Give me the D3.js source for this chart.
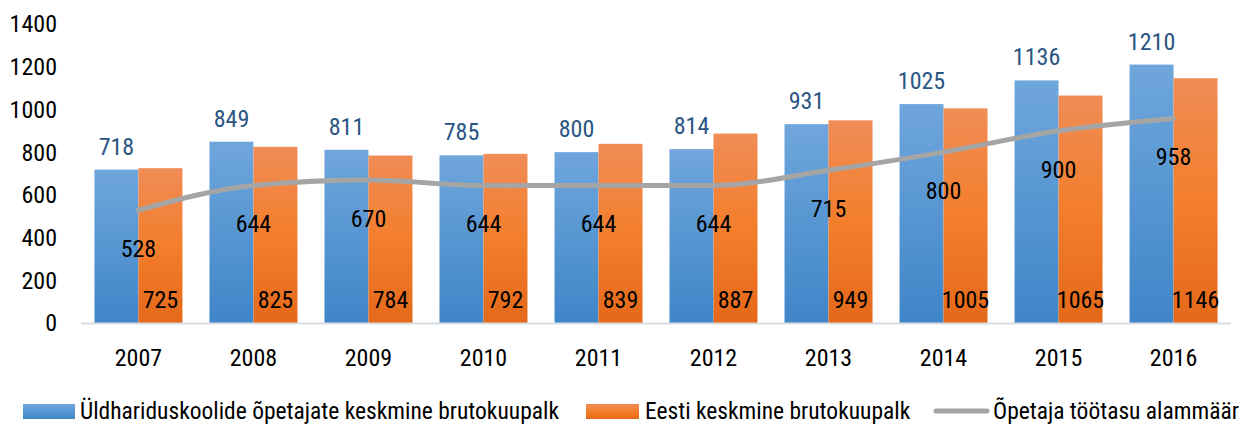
<!DOCTYPE html>
<html>
<head>
<meta charset="utf-8">
<script src="https://cdn.jsdelivr.net/npm/d3@7"></script>
<style>
  body { margin: 0; background: #fff; }
  svg text { font-family: "Roboto Condensed", "Liberation Sans Narrow", "DejaVu Sans Condensed", sans-serif; }
</style>
</head>
<body>
<div id="chart"></div>
<script>
const years = ["2007", "2008", "2009", "2010", "2011", "2012", "2013", "2014", "2015", "2016"];
const teacherPay = [718, 849, 811, 785, 800, 814, 931, 1025, 1136, 1210];
const estoniaPay = [725, 825, 784, 792, 839, 887, 949, 1005, 1065, 1146];
const minPay = [528, 644, 670, 644, 644, 644, 715, 800, 900, 958];
const yTicks = [0, 200, 400, 600, 800, 1000, 1200, 1400];
const seriesNames = [
    "Üldhariduskoolide õpetajate keskmine brutokuupalk",
    "Eesti keskmine brutokuupalk",
    "Õpetaja töötasu alammäär"
];

const width = 1248, height = 425;
const margin = {top: 24, right: 16, bottom: 102, left: 81};

const svg = d3.select("#chart").append("svg")
    .attr("width", width)
    .attr("height", height);

const defs = svg.append("defs");
const blueGrad = defs.append("linearGradient").attr("id", "blueGrad")
    .attr("x1", 0).attr("y1", 0).attr("x2", 0).attr("y2", 1);
blueGrad.append("stop").attr("offset", "0%").attr("stop-color", "#6fa6dc");
blueGrad.append("stop").attr("offset", "100%").attr("stop-color", "#3f86c8");
const orangeGrad = defs.append("linearGradient").attr("id", "orangeGrad")
    .attr("x1", 0).attr("y1", 0).attr("x2", 0).attr("y2", 1);
orangeGrad.append("stop").attr("offset", "0%").attr("stop-color", "#f08c56");
orangeGrad.append("stop").attr("offset", "50%").attr("stop-color", "#f37e2c");
orangeGrad.append("stop").attr("offset", "100%").attr("stop-color", "#e4691a");

const x = d3.scaleBand()
    .domain(years)
    .range([margin.left, margin.left + 1150])
    .paddingInner(0.235)
    .paddingOuter(0.117);

const y = d3.scaleLinear()
    .domain([0, 1400])
    .range([323, 24]);

// y axis labels
svg.append("g")
    .attr("font-size", 24)
    .attr("text-anchor", "end")
    .selectAll("text")
    .data(yTicks)
    .join("text")
    .attr("x", 57)
    .attr("y", d => y(d))
    .attr("dy", "0.35em")
    .attr("fill", "#000")
    .text(d => d);

const bw = x.bandwidth() / 2;

// blue bars
svg.append("g")
    .selectAll("rect")
    .data(years)
    .join("rect")
    .attr("x", d => x(d))
    .attr("y", (d, i) => y(teacherPay[i]))
    .attr("width", bw)
    .attr("height", (d, i) => y(0) - y(teacherPay[i]))
    .attr("fill", "url(#blueGrad)");

// orange bars
svg.append("g")
    .selectAll("rect")
    .data(years)
    .join("rect")
    .attr("x", d => x(d) + bw)
    .attr("y", (d, i) => y(estoniaPay[i]))
    .attr("width", bw)
    .attr("height", (d, i) => y(0) - y(estoniaPay[i]))
    .attr("fill", "url(#orangeGrad)");

// baseline
svg.append("line")
    .attr("x1", margin.left).attr("x2", margin.left + 1150)
    .attr("y1", y(0) + 0.5).attr("y2", y(0) + 0.5)
    .attr("stroke", "#d9dde3")
    .attr("stroke-width", 2);

// line
const cx = d => x(d) + x.bandwidth() / 2;
const line = d3.line()
    .x(d => cx(d[0]))
    .y(d => y(d[1]))
    .curve(d3.curveMonotoneX);

svg.append("path")
    .datum(years.map((d, i) => [d, minPay[i]]))
    .attr("fill", "none")
    .attr("stroke", "#a5a5a5")
    .attr("stroke-width", 5)
    .attr("stroke-linecap", "round")
    .attr("d", line);

// labels
svg.append("g")
    .attr("font-size", 24)
    .attr("text-anchor", "middle")
    .attr("fill", "#2a5583")
    .selectAll("text")
    .data(years)
    .join("text")
    .attr("x", d => x(d) + bw / 2)
    .attr("y", (d, i) => y(teacherPay[i]) - 15)
    .text((d, i) => teacherPay[i]);

svg.append("g")
    .attr("font-size", 24)
    .attr("text-anchor", "middle")
    .attr("fill", "#000")
    .selectAll("text")
    .data(years)
    .join("text")
    .attr("x", d => x(d) + bw * 1.5)
    .attr("y", y(0) - 15)
    .text((d, i) => estoniaPay[i]);

svg.append("g")
    .attr("font-size", 24)
    .attr("text-anchor", "middle")
    .attr("fill", "#000")
    .selectAll("text")
    .data(years)
    .join("text")
    .attr("x", d => cx(d))
    .attr("y", (d, i) => y(minPay[i]) + 47)
    .text((d, i) => minPay[i]);

// x axis labels
svg.append("g")
    .attr("font-size", 24)
    .attr("text-anchor", "middle")
    .attr("fill", "#000")
    .selectAll("text")
    .data(years)
    .join("text")
    .attr("x", d => cx(d))
    .attr("y", 366)
    .text(d => d);

// legend
const legend = svg.append("g").attr("font-size", 23.5);
const lg = [
    {x: 23, w: 52, tx: 80, type: "rect", fill: "url(#blueGrad)"},
    {x: 586, w: 53, tx: 645, type: "rect", fill: "url(#orangeGrad)"},
    {x: 933, w: 57, tx: 993, type: "line", fill: "#a5a5a5"}
];
lg.forEach((d, i) => {
    if (d.type === "rect") {
        legend.append("rect")
            .attr("x", d.x).attr("y", 404)
            .attr("width", d.w).attr("height", 15)
            .attr("fill", d.fill);
    } else {
        legend.append("line")
            .attr("x1", d.x + 3).attr("x2", d.x + d.w - 3)
            .attr("y1", 411).attr("y2", 411)
            .attr("stroke", d.fill)
            .attr("stroke-width", 5)
            .attr("stroke-linecap", "round");
    }
    legend.append("text")
        .attr("x", d.tx)
        .attr("y", 419)
        .attr("fill", "#000")
        .text(seriesNames[i]);
});
</script>
</body>
</html>
